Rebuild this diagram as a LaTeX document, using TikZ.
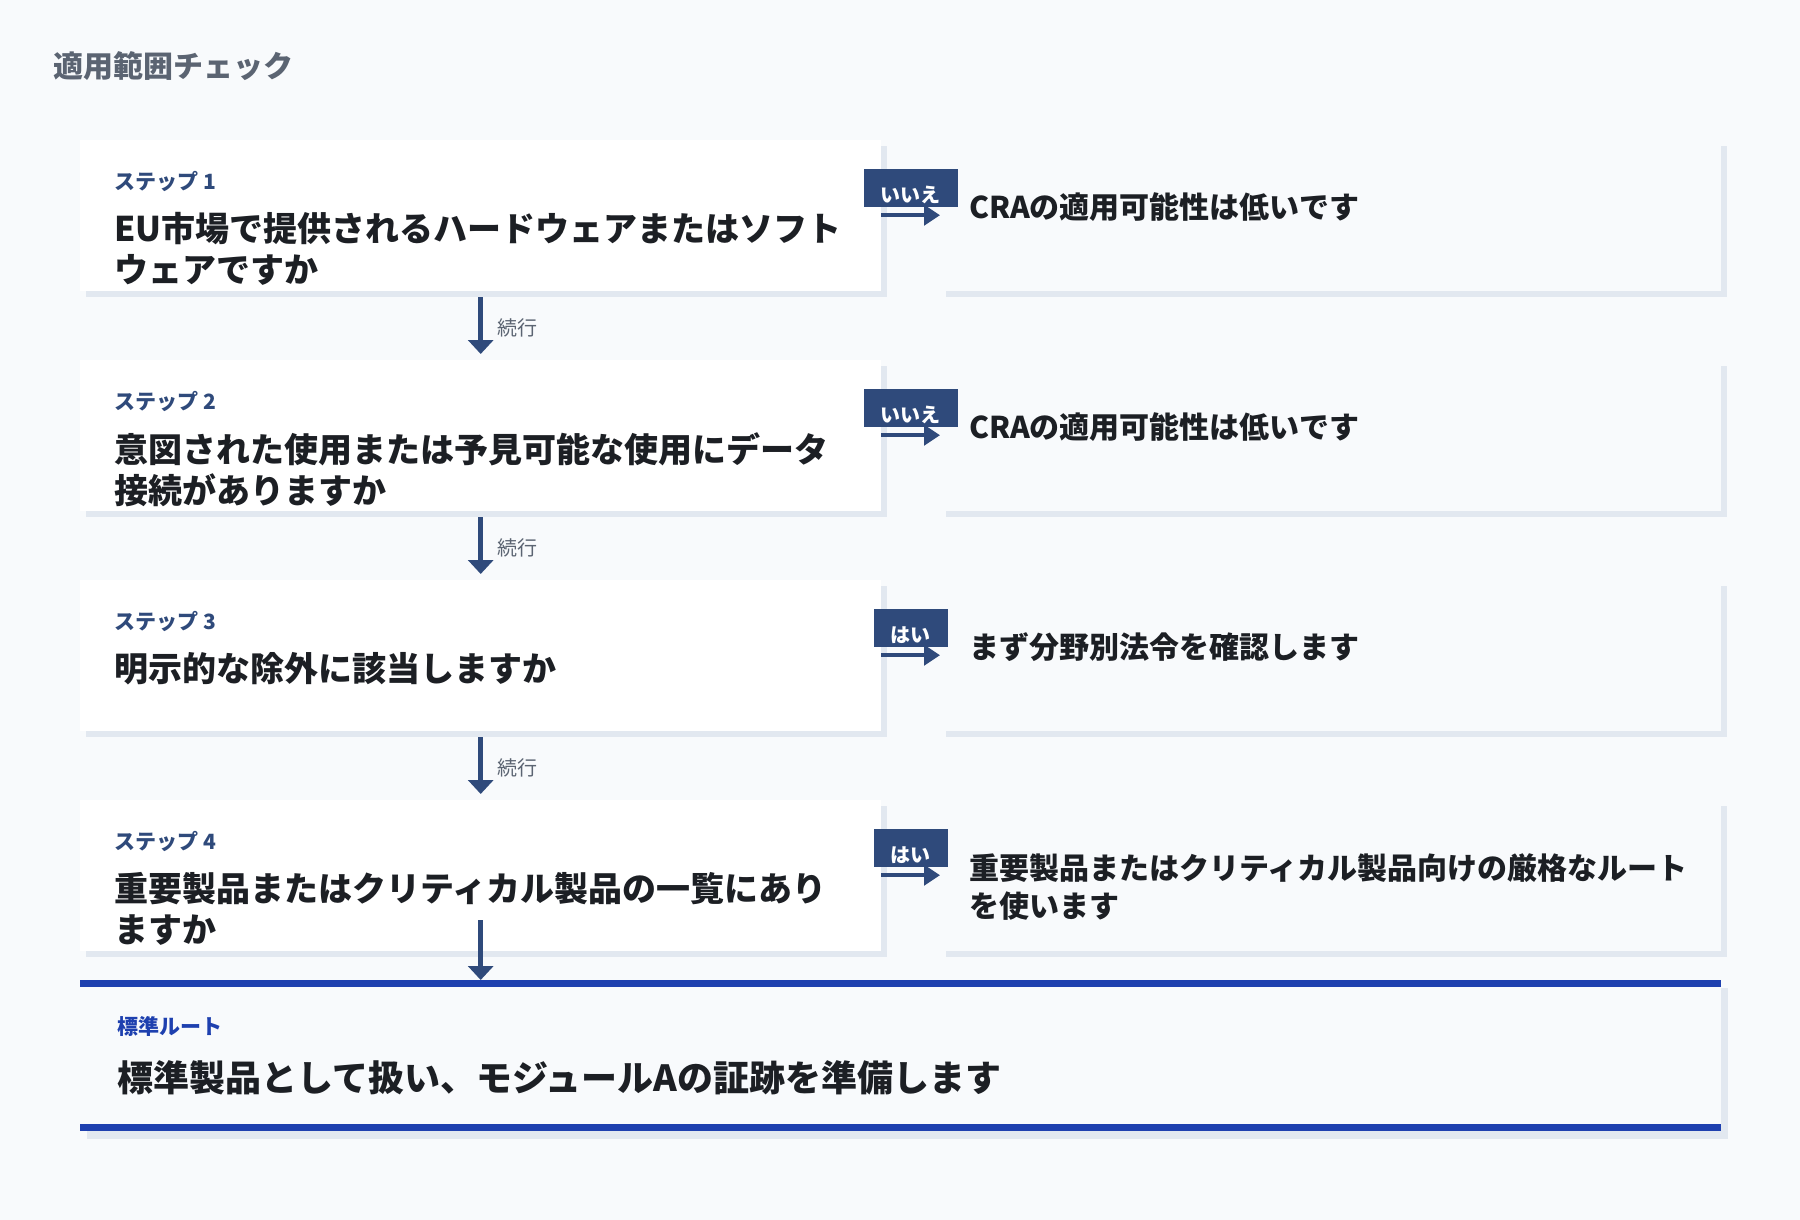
\documentclass[tikz,border=0pt]{standalone}
\usepackage{fontspec}
\setmainfont{Noto Sans CJK JP}
\usepackage{xcolor}
\usetikzlibrary{arrows.meta,shadows}

\definecolor{pagebg}{HTML}{F8FAFC}
\definecolor{shadowc}{HTML}{E2E8F0}
\definecolor{stepblue}{HTML}{2F4A7B}
\definecolor{rootblue}{HTML}{1E40AF}
\definecolor{ink}{HTML}{1C1F24}
\definecolor{muted}{HTML}{5B6472}

\tikzset{
  stepbox/.style={rectangle, anchor=north west, fill=white, inner sep=0pt,
    minimum width=801pt, minimum height=151pt,
    drop shadow={shadow xshift=6pt, shadow yshift=-6pt, fill=shadowc, opacity=1}},
  resultbox/.style={stepbox, fill=pagebg, minimum width=781pt},
  steplabel/.style={anchor=west, inner sep=0pt, text=stepblue, font=\bfseries\fontsize{21}{25}\selectfont},
  question/.style={anchor=north west, inner sep=0pt, align=left, text=ink, font=\bfseries\fontsize{34}{41}\selectfont},
  outcome/.style={anchor=west, inner sep=0pt, align=left, text=ink, font=\bfseries\fontsize{30}{38}\selectfont},
  answertag/.style={fill=stepblue, text=white, inner xsep=17pt, inner ysep=0pt,
    text height=33pt, text depth=5pt, font=\bfseries\fontsize{20}{24}\selectfont},
  flow/.style={line width=4.5pt, stepblue, -{Triangle[width=25pt,length=14pt]}},
  sideflow/.style={line width=4.5pt, stepblue, -{Triangle[width=20pt,length=16pt]}},
  golabel/.style={anchor=west, inner sep=0pt, text=muted, font=\fontsize{20}{24}\selectfont},
}

\begin{document}
\begin{tikzpicture}[x=1pt, y=-1pt]
\useasboundingbox (0,0) rectangle (1800,1220);
\fill[pagebg] (0,0) rectangle (1800,1220);

\node[anchor=west, inner sep=0pt, text=muted, font=\bfseries\fontsize{30}{36}\selectfont] (title) at (53,66) {適用範囲チェック};

% step boxes and results
\node[stepbox] (s1) at (80,140) {};
\node[resultbox] (r1) at (940,140) {};
\node[stepbox] (s2) at (80,360) {};
\node[resultbox] (r2) at (940,360) {};
\node[stepbox] (s3) at (80,580) {};
\node[resultbox] (r3) at (940,580) {};
\node[stepbox] (s4) at (80,800) {};
\node[resultbox] (r4) at (940,800) {};

\node[steplabel] (l1) at (114,181) {ステップ 1};
\node[question] (q1) at (114,212) {EU市場で提供されるハードウェアまたはソフト\\ウェアですか};
\node[steplabel] (l2) at (114,401) {ステップ 2};
\node[question] (q2) at (114,432) {意図された使用または予見可能な使用にデータ\\接続がありますか};
\node[steplabel] (l3) at (114,621) {ステップ 3};
\node[question] (q3) at (114,652) {明示的な除外に該当しますか};
\node[steplabel] (l4) at (114,841) {ステップ 4};
\node[question] (q4) at (114,872) {重要製品またはクリティカル製品の一覧にあり\\ますか};

\node[outcome] (o1) at (969,207) {CRAの適用可能性は低いです};
\node[outcome] (o2) at (969,427) {CRAの適用可能性は低いです};
\node[outcome] (o3) at (969,647) {まず分野別法令を確認します};
\node[outcome, anchor=north west] (o4) at (969,853) {重要製品またはクリティカル製品向けの厳格なルート\\を使います};

% answer tags
\node[answertag] (t1) at (910.5,188) {いいえ};
\node[answertag] (t2) at (910.5,408) {いいえ};
\node[answertag] (t3) at (910.5,628) {はい};
\node[answertag] (t4) at (910.5,848) {はい};
\coordinate (a1) at ([yshift=-8pt]t1.south);
\coordinate (a2) at ([yshift=-8pt]t2.south);
\coordinate (a3) at ([yshift=-8pt]t3.south);
\coordinate (a4) at ([yshift=-8pt]t4.south);
\draw[sideflow] (a1 -| s1.east) -- (a1 -| r1.west);
\draw[sideflow] (a2 -| s2.east) -- (a2 -| r2.west);
\draw[sideflow] (a3 -| s3.east) -- (a3 -| r3.west);
\draw[sideflow] (a4 -| s4.east) -- (a4 -| r4.west);

% continue arrows
\draw[flow, shorten <=6pt, shorten >=6pt] (s1.south) -- (s2.north) node[golabel, midway, xshift=15pt, yshift=-2.5pt] {続行};
\draw[flow, shorten <=6pt, shorten >=6pt] (s2.south) -- (s3.north) node[golabel, midway, xshift=15pt, yshift=-2.5pt] {続行};
\draw[flow, shorten <=6pt, shorten >=6pt] (s3.south) -- (s4.north) node[golabel, midway, xshift=15pt, yshift=-2.5pt] {続行};

% standard route
\node[rectangle, anchor=north west, fill=pagebg, inner sep=0pt, minimum width=1641pt, minimum height=151pt,
  drop shadow={shadow xshift=7pt, shadow yshift=-8pt, fill=shadowc, opacity=1}] (fin) at (80,980) {};
\fill[rootblue] (fin.north west) rectangle ([yshift=-7pt]fin.north east);
\fill[rootblue] ([yshift=7pt]fin.south west) rectangle (fin.south east);
\node[steplabel, text=rootblue] (lf) at (117,1026) {標準ルート};
\node[anchor=west, inner sep=0pt, text=ink, font=\bfseries\fontsize{36}{44}\selectfont] (qf) at (117,1078) {標準製品として扱い、モジュールAの証跡を準備します};
\draw[flow] ([yshift=31pt]s4.south) -- (fin.north -| s4.south);
\end{tikzpicture}
\end{document}
